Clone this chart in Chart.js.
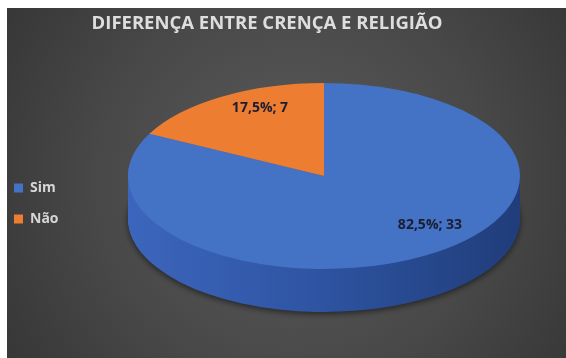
<!DOCTYPE html>
<html>
<head>
<meta charset="utf-8">
<script src="https://cdn.jsdelivr.net/npm/chart.js@4.4.1/dist/chart.umd.min.js"></script>
<style>
  html, body { margin: 0; padding: 0; background: #fff; overflow: hidden; }
  #wrap { position: absolute; left: -1px; top: 8px; width: 567px; height: 350px; }
  #edge { position: absolute; left: 0; top: 0; width: 7px; height: 358px; background: #fff; z-index: 2; }
</style>
</head>
<body>
<div id="edge"></div>
<div id="wrap"><canvas id="pie"></canvas></div>
<script>
const categories = ['Sim', 'Não'];
const answers = [33, 7];
const sliceColors = ['#4472C4', '#ED7D31'];
const chartTitle = 'DIFERENÇA ENTRE CRENÇA E RELIGIÃO';

// ellipse used to tilt the pie, plus where the value labels sit on it
const tilt = { cx: 325, cy: 168, rx: 196, ry: 93, depth: 43 };
const labelRing = { dx: 21, dy: -9.5, rx: 0.83, ry: 0.74 };

const boldFont = '"Open Sans", Lato, sans-serif';

function pctLabel(value, total) {
    return (value / total * 100).toFixed(1).replace('.', ',') + '%; ' + value;
}

// dark radial backdrop
const backdrop = {
    id: 'backdrop',
    beforeDraw(chart) {
        const { ctx, width, height } = chart;
        ctx.save();
        const g = ctx.createRadialGradient(width * 0.52, height * 0.5, 10, width * 0.52, height * 0.5, width * 0.62);
        g.addColorStop(0, '#5a5a5a');
        g.addColorStop(0.55, '#484848');
        g.addColorStop(1, '#353535');
        ctx.fillStyle = g;
        ctx.fillRect(0, 0, width, height);
        ctx.restore();
    }
};

// squash the pie into an ellipse and give it a side wall
const tiltedPie = {
    id: 'tiltedPie',
    beforeDatasetDraw(chart, args) {
        const arcs = args.meta.data;
        if (!arcs.length) return;
        const ctx = chart.ctx;
        const { x, y, outerRadius: R } = arcs[0];
        const sx = tilt.rx / R, sy = tilt.ry / R;
        ctx.save();
        ctx.translate(tilt.cx, tilt.cy);
        ctx.scale(sx, sy);
        ctx.translate(-x, -y);

        const side = ctx.createLinearGradient(x - R, 0, x + R, 0);
        side.addColorStop(0, '#3c66bd');
        side.addColorStop(0.45, '#2f55a4');
        side.addColorStop(1, '#203d7a');

        for (let k = tilt.depth; k >= 1; k--) {
            ctx.save();
            ctx.translate(0, k / sy);
            if (k === tilt.depth) {
                ctx.shadowColor = 'rgba(0,0,0,0.55)';
                ctx.shadowBlur = 6;
                ctx.shadowOffsetY = 2;
            }
            arcs.forEach(arc => {
                const wall = Object.create(arc);
                wall.options = Object.assign({}, arc.options, { backgroundColor: side, borderWidth: 0 });
                arc.draw.call(wall, ctx);
            });
            ctx.restore();
        }
    },
    afterDatasetDraw(chart, args) {
        const arcs = args.meta.data;
        if (!arcs.length) return;
        const ctx = chart.ctx;
        ctx.restore();

        const total = answers.reduce((a, b) => a + b, 0);
        ctx.save();
        ctx.font = 'bold 14px ' + boldFont;
        ctx.fillStyle = '#1b1d33';
        ctx.textAlign = 'center';
        ctx.textBaseline = 'middle';
        arcs.forEach((arc, i) => {
            const mid = (arc.startAngle + arc.endAngle) / 2;
            const px = Math.cos(mid) * tilt.rx * labelRing.rx;
            const py = Math.sin(mid) * tilt.ry * labelRing.ry;
            ctx.fillText(pctLabel(answers[i], total), tilt.cx + labelRing.dx + px, tilt.cy + labelRing.dy + py);
        });
        ctx.restore();
    }
};

new Chart(document.getElementById('pie'), {
    type: 'pie',
    data: {
        labels: categories,
        datasets: [{
            data: answers,
            backgroundColor: sliceColors,
            borderWidth: 0,
            clip: false
        }]
    },
    options: {
        responsive: true,
        maintainAspectRatio: false,
        animation: false,
        layout: { padding: { left: 0, right: 31 } },
        plugins: {
            title: {
                display: true,
                text: chartTitle,
                color: '#dedede',
                font: { family: boldFont, size: 18.5, weight: 'bold' },
                padding: { top: 5, bottom: 16 }
            },
            legend: {
                position: 'left',
                fullSize: false,
                labels: {
                    color: '#d6d6d6',
                    boxWidth: 9,
                    boxHeight: 9,
                    padding: 15,
                    font: { family: boldFont, size: 14, weight: 'bold', lineHeight: '16px' },
                    // one-line arrays so each row takes the font's line height
                    generateLabels(chart) {
                        const items = Chart.overrides.pie.plugins.legend.labels.generateLabels(chart);
                        return items.map(item => Object.assign(item, { text: [item.text] }));
                    }
                }
            },
            tooltip: { enabled: false }
        }
    },
    plugins: [backdrop, tiltedPie]
});
</script>
</body>
</html>
